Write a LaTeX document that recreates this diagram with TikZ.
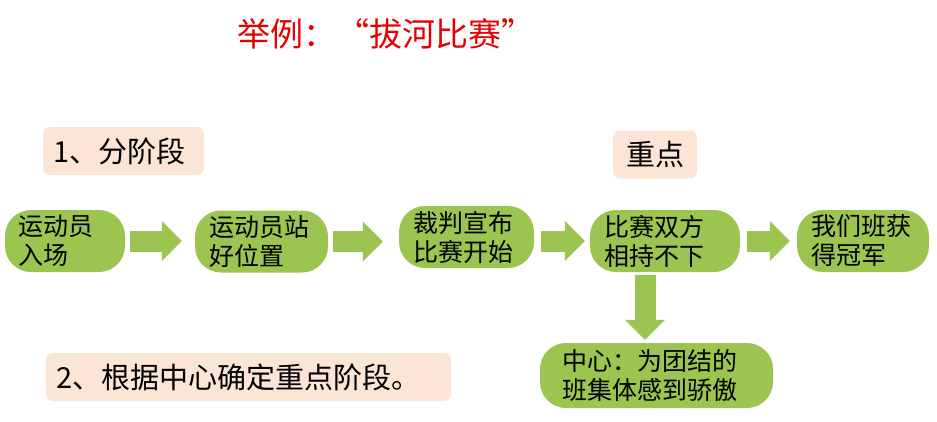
\documentclass[tikz,border=0pt]{standalone}
\usepackage{fontspec}
\setmainfont{Noto Sans CJK SC}
\usetikzlibrary{arrows.meta}
\definecolor{stagegreen}{RGB}{155,196,80}
\definecolor{notepink}{RGB}{251,229,214}
\definecolor{titlered}{RGB}{230,0,0}

\begin{document}
\begin{tikzpicture}[x=1pt,y=-1pt,
    stage/.style={fill=stagegreen, rounded corners=26pt, minimum height=62pt,
        inner xsep=14pt, inner ysep=0pt, align=left,
        font=\fontsize{25}{29}\selectfont},
    notebox/.style={fill=notepink, rounded corners=7pt, minimum height=48pt,
        inner xsep=10pt, inner ysep=0pt, align=left,
        font=\fontsize{29}{34}\selectfont},
    bigarrow/.style={draw=stagegreen, line width=21pt,
        -{Triangle[length=20pt,width=40pt,line width=0pt]}}]
                \useasboundingbox (0,0) rectangle (937,421);
                \node[text=titlered, font=\fontsize{33}{38}\selectfont] (title) at (386,34) {举例：“拔河比赛”};
                % phases of the match
                \node[notebox, text width=141pt] (phase) at (123.5,151) {1、分阶段};
                \node[notebox, align=center, minimum width=84pt] (focus) at (655,154.5) {重点};
                \node[stage, text width=92pt] (enter) at (65,241) {运动员\\入场};
                \node[stage, text width=105pt] (ready) at (261.5,241.5) {运动员站\\好位置};
                \node[stage, text width=107pt] (start) at (466.5,237) {裁判宣布\\比赛开始};
                \node[stage, text width=122pt] (stalemate) at (665,241) {比赛双方\\相持不下};
                \node[stage, text width=104pt] (win) at (863,241) {我们班获\\得冠军};
                \node[stage, text width=189pt, inner xsep=22pt, minimum height=65pt] (centre) at (656.5,375.5) {中心：为团结的\\班集体感到骄傲};
                \node[notebox, text width=385pt] (note) at (248.5,377) {2、根据中心确定重点阶段。};
                % block arrows
                \draw[bigarrow, shorten <=5pt, shorten >=13pt] (enter.east) -- (enter.east -| ready.west);
                \draw[bigarrow, shorten <=5pt, shorten >=16pt] (ready.east) -- (ready.east -| start.west);
                \draw[bigarrow, shorten <=7pt, shorten >=5pt] (stalemate.west -| start.east) -- (stalemate.west);
                \draw[bigarrow, shorten <=7pt, shorten >=7pt] (stalemate.east) -- (stalemate.east -| win.west);
                \draw[bigarrow, shorten <=3pt, shorten >=3pt] ([xshift=-20pt]stalemate.south) -- ([xshift=-20pt]stalemate.south |- centre.north);
            \end{tikzpicture}
\end{document}
